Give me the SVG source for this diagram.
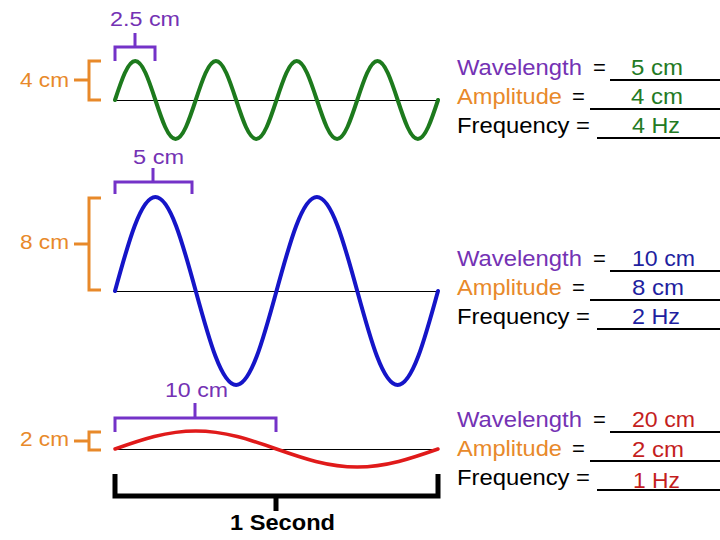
<svg xmlns="http://www.w3.org/2000/svg" width="720" height="540" viewBox="0 0 720 540">
<style>
text{font-family:"Liberation Sans",Arial,sans-serif;font-size:22px}
.lab{font-size:20px}
.pu{fill:#7432B4}
.or{fill:#E8892A}
.bk{fill:#000}
.gv{fill:#237A23}
.bv{fill:#1F1FA0}
.rv{fill:#C41E1E}
.base{stroke:#000;stroke-width:1;fill:none}
.ul{stroke:#000;stroke-width:2;fill:none}
.pb{stroke:#7432C8;stroke-width:3;fill:none}
.ob{stroke:#E8892A;stroke-width:3;fill:none}
.wave{fill:none;stroke-linecap:round;stroke-linejoin:round}
</style>
<rect width="720" height="540" fill="#fff"/>

<g id="wave-green">
<path class="base" d="M115,100.5 H438"/>
<path class="wave" stroke="#1D7A1D" stroke-width="4" vector-effect="non-scaling-stroke" transform="translate(115,100) scale(20.19,-39)" d="M0,0 C0.3261,0.5123 0.638,1 1,1 S1.6739,0.5123 2,0 S2.638,-1 3,-1 S3.6739,-0.5123 4,0 S4.638,1 5,1 S5.6739,0.5123 6,0 S6.638,-1 7,-1 S7.6739,-0.5123 8,0 S8.638,1 9,1 S9.6739,0.5123 10,0 S10.638,-1 11,-1 S11.6739,-0.5123 12,0 S12.638,1 13,1 S13.6739,0.5123 14,0 S14.638,-1 15,-1 S15.6739,-0.5123 16,0"/>
</g>

<g id="wave-blue">
<path class="base" d="M115,291.5 H438"/>
<path class="wave" stroke="#1515C8" stroke-width="4" vector-effect="non-scaling-stroke" transform="translate(115,291) scale(40.375,-94)" d="M0,0 C0.3261,0.5123 0.638,1 1,1 S1.6739,0.5123 2,0 S2.638,-1 3,-1 S3.6739,-0.5123 4,0 S4.638,1 5,1 S5.6739,0.5123 6,0 S6.638,-1 7,-1 S7.6739,-0.5123 8,0"/>
</g>

<g id="wave-red">
<path class="base" d="M115,449.5 H438"/>
<path class="wave" stroke="#E01A1A" stroke-width="3.5" vector-effect="non-scaling-stroke" transform="translate(115,449) scale(80.75,-18)" d="M0,0 C0.3261,0.5123 0.638,1 1,1 S1.6739,0.5123 2,0 S2.638,-1 3,-1 S3.6739,-0.5123 4,0"/>
</g>

<g id="wavelength-brackets">
<path class="pb" d="M115,61 V47 H155 V61 M135,47 V33"/>
<text class="lab pu" x="110" y="26" textLength="70" lengthAdjust="spacingAndGlyphs">2.5 cm</text>
<path class="pb" d="M115,194 V182 H192 V194 M153,182 V168"/>
<text class="lab pu" x="133" y="164" textLength="51" lengthAdjust="spacingAndGlyphs">5 cm</text>
<path class="pb" d="M115,432 V418 H276 V432 M195,418 V403"/>
<text class="lab pu" x="165" y="397" textLength="63" lengthAdjust="spacingAndGlyphs">10 cm</text>
</g>

<g id="amplitude-brackets">
<path class="ob" d="M101,61 H89 V100 H101 M74,80 H89"/>
<text class="lab or" x="20" y="87" textLength="49" lengthAdjust="spacingAndGlyphs">4 cm</text>
<path class="ob" d="M101,198 H89 V290 H101 M74,244 H89"/>
<text class="lab or" x="20" y="249" textLength="49" lengthAdjust="spacingAndGlyphs">8 cm</text>
<path class="ob" d="M101,432 H89 V450 H101 M74,441 H89"/>
<text class="lab or" x="20" y="446" textLength="49" lengthAdjust="spacingAndGlyphs">2 cm</text>
</g>

<g id="one-second">
<path d="M115,474 V496 H438 V474 M276,496 V511" stroke="#000" stroke-width="5" fill="none"/>
<text x="230" y="530" font-weight="bold" textLength="105" lengthAdjust="spacingAndGlyphs">1 Second</text>
</g>

<g id="answers-green">
<text class="pu" x="457" y="75" textLength="125" lengthAdjust="spacingAndGlyphs">Wavelength</text>
<text class="bk" x="593" y="75">=</text>
<path class="ul" d="M610,80 H720"/>
<text class="gv" x="631" y="75" textLength="52" lengthAdjust="spacingAndGlyphs">5 cm</text>
<text class="or" x="457" y="104" textLength="105" lengthAdjust="spacingAndGlyphs">Amplitude</text>
<text class="bk" x="572" y="104">=</text>
<path class="ul" d="M590,109 H720"/>
<text class="gv" x="631" y="104" textLength="52" lengthAdjust="spacingAndGlyphs">4 cm</text>
<text class="bk" x="457" y="133" textLength="133" lengthAdjust="spacingAndGlyphs">Frequency =</text>
<path class="ul" d="M597,138 H720"/>
<text class="gv" x="632" y="133" textLength="48" lengthAdjust="spacingAndGlyphs">4 Hz</text>
</g>

<g id="answers-blue">
<text class="pu" x="457" y="266" textLength="125" lengthAdjust="spacingAndGlyphs">Wavelength</text>
<text class="bk" x="593" y="266">=</text>
<path class="ul" d="M610,271 H720"/>
<text class="bv" x="632" y="266" textLength="63" lengthAdjust="spacingAndGlyphs">10 cm</text>
<text class="or" x="457" y="295" textLength="105" lengthAdjust="spacingAndGlyphs">Amplitude</text>
<text class="bk" x="572" y="295">=</text>
<path class="ul" d="M590,300 H720"/>
<text class="bv" x="632" y="295" textLength="52" lengthAdjust="spacingAndGlyphs">8 cm</text>
<text class="bk" x="457" y="324" textLength="133" lengthAdjust="spacingAndGlyphs">Frequency =</text>
<path class="ul" d="M597,329 H720"/>
<text class="bv" x="632" y="324" textLength="48" lengthAdjust="spacingAndGlyphs">2 Hz</text>
</g>

<g id="answers-red">
<text class="pu" x="457" y="427" textLength="125" lengthAdjust="spacingAndGlyphs">Wavelength</text>
<text class="bk" x="593" y="427">=</text>
<path class="ul" d="M610,432 H720"/>
<text class="rv" x="632" y="427" textLength="63" lengthAdjust="spacingAndGlyphs">20 cm</text>
<text class="or" x="457" y="456" textLength="105" lengthAdjust="spacingAndGlyphs">Amplitude</text>
<text class="bk" x="572" y="456">=</text>
<path class="ul" d="M590,461 H720"/>
<text class="rv" x="632" y="457" textLength="52" lengthAdjust="spacingAndGlyphs">2 cm</text>
<text class="bk" x="457" y="485" textLength="133" lengthAdjust="spacingAndGlyphs">Frequency =</text>
<path class="ul" d="M597,490 H720"/>
<text class="rv" x="633" y="488" textLength="47" lengthAdjust="spacingAndGlyphs">1 Hz</text>
</g>
</svg>
